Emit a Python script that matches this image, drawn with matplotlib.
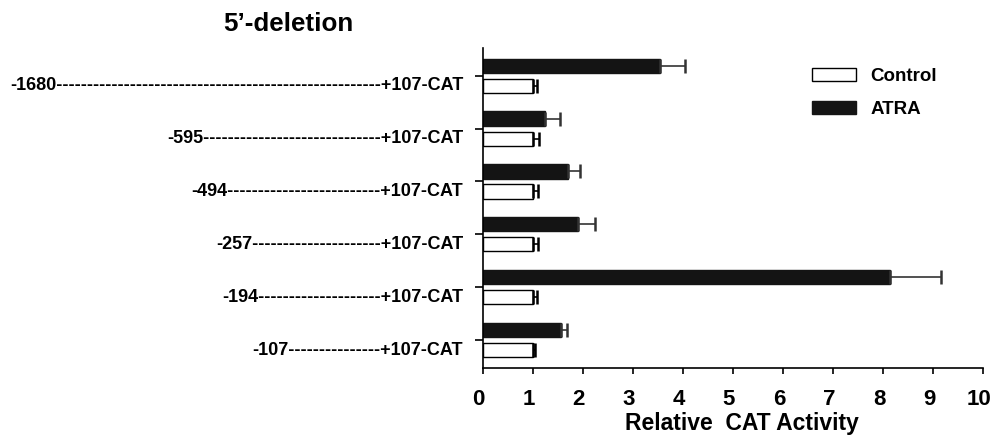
import matplotlib
matplotlib.use("Agg")
import matplotlib.pyplot as plt
import matplotlib.transforms as mtransforms
import numpy as np

# Data (top to bottom)
constructs = ['-1680', '-595', '-494', '-257', '-194', '-107']
n_dashes = [53, 29, 25, 21, 20, 15]
atra = [3.55, 1.25, 1.70, 1.90, 8.13, 1.56]
atra_err = [0.49, 0.30, 0.24, 0.35, 1.02, 0.12]
control = [1.0, 1.0, 1.0, 1.0, 1.0, 1.0]
control_err = [0.08, 0.12, 0.10, 0.10, 0.08, 0.05]

plt.rcParams['font.family'] = ['Liberation Sans', 'DejaVu Sans']
plt.rcParams['font.weight'] = 'bold'

fig = plt.figure(figsize=(9.95, 4.44), dpi=100)
ax = fig.add_axes([0.4851, 0.1718, 0.5031, 0.7200])

pos = np.arange(len(constructs))[::-1].astype(float)
off = 0.19
h = 0.27

ax.barh(pos - off, control, height=h, color='white', edgecolor='black',
        linewidth=1.0, label='Control', zorder=2)
ax.barh(pos + off, atra, height=h, color='#141414', edgecolor='#141414',
        linewidth=1.0, label='ATRA', zorder=2)

ax.errorbar(control, pos - off, xerr=[np.zeros(6), control_err], fmt='none',
            ecolor='black', elinewidth=1.2, capsize=5, capthick=1.8, zorder=3)
ax.errorbar(atra, pos + off, xerr=[np.zeros(6), atra_err], fmt='none',
            ecolor='#333333', elinewidth=1.2, capsize=5, capthick=1.8, zorder=3)

ax.set_xlim(0, 10)
ax.set_ylim(-0.524, 5.524)
ax.set_xticks(range(0, 11))
ax.set_yticks(pos)
ax.set_yticklabels([])

for s in ['top', 'right']:
    ax.spines[s].set_visible(False)
for s in ['left', 'bottom']:
    ax.spines[s].set_linewidth(1.2)

ax.tick_params(axis='x', direction='out', length=4.5, width=1.2, pad=11,
               labelsize=16)
ax.tick_params(axis='y', direction='out', length=6, width=1.2)
for lab in ax.get_xticklabels():
    lab.set_fontweight('bold')
    lab.set_transform(lab.get_transform() +
                      mtransforms.ScaledTranslation(-4 / 100, 0, fig.dpi_scale_trans))

# construct labels, right aligned next to the axis at the control bar height
for name, nd, p in zip(constructs, n_dashes, pos):
    ax.text(-0.039, p - off, name + '-' * nd + '+107-CAT',
            transform=ax.get_yaxis_transform(), ha='right', va='center',
            fontsize=13, fontweight='bold')

ax.set_xlabel('Relative  CAT Activity', fontsize=16.5, fontweight='bold')
ax.xaxis.set_label_coords(0.517, -0.14)

fig.text(0.224, 0.945, '5\u2019-deletion', fontsize=18.7, fontweight='bold',
         ha='left', va='center')

ax.legend(loc='upper left', bbox_to_anchor=(0.625, 0.99), frameon=False,
          handlelength=2.3, handleheight=0.65, labelspacing=0.85,
          handletextpad=0.8, prop={'size': 13.5, 'weight': 'bold'})

fig.savefig('out.png', dpi=100)
